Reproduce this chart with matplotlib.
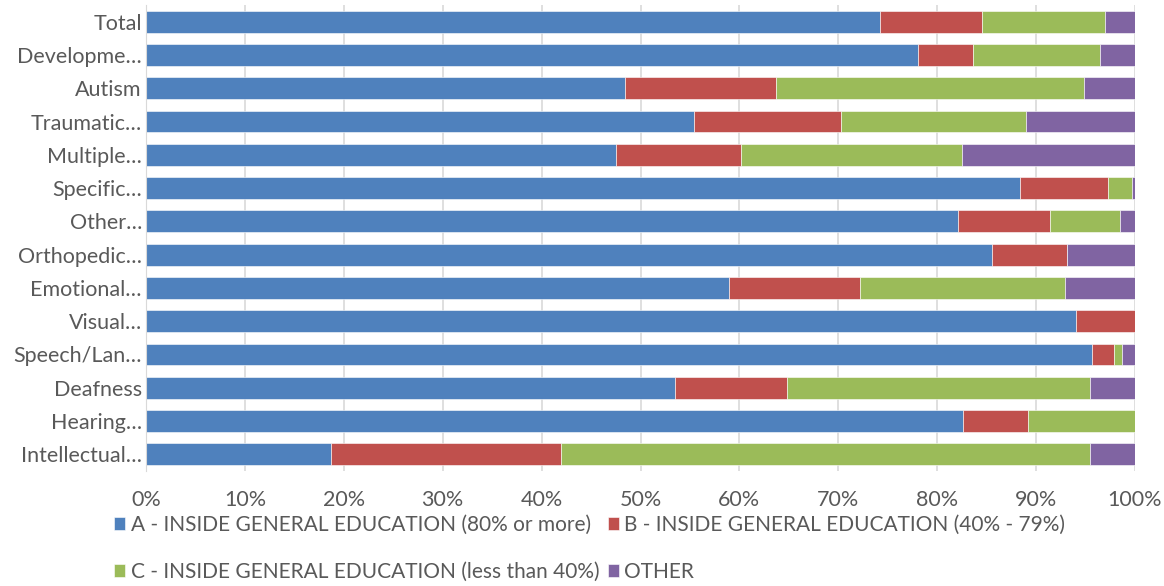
import numpy as np
import matplotlib.pyplot as plt

plt.rcParams['font.family'] = ['Lato', 'DejaVu Sans']

categories = ["Total", "Developme…", "Autism", "Traumatic…", "Multiple…", "Specific…",
              "Other…", "Orthopedic…", "Emotional…", "Visual…", "Speech/Lan…",
              "Deafness", "Hearing…", "Intellectual…"]

# percent of students in each setting
inside_80 = [74.2, 78.1, 48.4, 55.4, 47.5, 88.4, 82.1, 85.5, 58.9, 94.0, 95.7, 53.5, 82.6, 18.7]
inside_40_79 = [10.3, 5.5, 15.3, 14.9, 12.7, 8.9, 9.3, 7.6, 13.3, 6.0, 2.2, 11.3, 6.6, 23.3]
inside_lt40 = [12.5, 12.9, 31.1, 18.7, 22.3, 2.4, 7.1, 0.0, 20.7, 0.0, 0.8, 30.7, 10.8, 53.5]
other = [3.0, 3.5, 5.2, 11.0, 17.5, 0.3, 1.5, 6.9, 7.1, 0.0, 1.3, 4.5, 0.0, 4.5]

series = [
    ("A - INSIDE GENERAL EDUCATION (80% or more)", inside_80, "#4F81BD"),
    ("B - INSIDE GENERAL EDUCATION (40% - 79%)", inside_40_79, "#C0504D"),
    ("C - INSIDE GENERAL EDUCATION (less than 40%)", inside_lt40, "#9BBB59"),
    ("OTHER", other, "#8064A2"),
]

fig = plt.figure(figsize=(11.64, 5.86), dpi=100)
ax = fig.add_axes([146 / 1164, 1 - 471 / 586, 989 / 1164, 466 / 586])

y = np.arange(len(categories))
left = np.zeros(len(categories))
handles = []
for name, vals, col in series:
    vals = np.array(vals)
    b = ax.barh(y, vals, left=left, height=0.66, color=col, label=name,
                edgecolor="white", linewidth=0.4)
    handles.append(b)
    left += vals

ax.set_xlim(0, 100)
ax.set_ylim(len(categories) - 0.5, -0.5)
ax.set_yticks(y)
ax.set_yticklabels(categories)
ax.set_xticks(np.arange(0, 101, 10))
ax.set_xticklabels([f"{v}%" for v in range(0, 101, 10)])
ax.tick_params(axis="both", length=0, labelsize=15.5, colors="#595959")
ax.tick_params(axis="x", pad=14)
ax.tick_params(axis="y", pad=3)

ax.grid(axis="x", color="#D9D9D9", linewidth=1.2)
ax.set_axisbelow(True)
for s in ["top", "right", "bottom"]:
    ax.spines[s].set_visible(False)
ax.spines["left"].set_color("#D9D9D9")

# legend wraps as A, B on the first row and C, OTHER on the second
order = [0, 2, 1, 3]
leg = fig.legend([handles[i] for i in order], [series[i][0] for i in order],
                 loc="upper left", bbox_to_anchor=(114 / 1164, 1 - 515 / 586), ncol=2,
                 frameon=False, fontsize=15, handlelength=0.55, handleheight=0.55,
                 handletextpad=0.25, columnspacing=0.4, labelspacing=1.3,
                 borderaxespad=0, borderpad=0)
for t in leg.get_texts():
    t.set_color("#595959")

fig.savefig("out.png", dpi=100)
